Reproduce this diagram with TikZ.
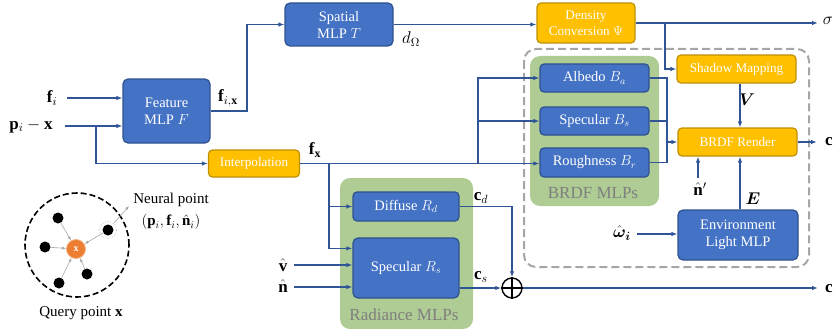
\documentclass[tikz,border=0pt]{standalone}
\usepackage{fix-cm}
\usepackage{amsmath,bm}
\usepackage{fontspec}
\setmainfont{Liberation Serif}
\usetikzlibrary{arrows.meta,calc}
\definecolor{bluefill}{HTML}{4472C4}
\definecolor{blueline}{HTML}{2F528F}
\definecolor{arrowc}{HTML}{2F5597}
\definecolor{goldfill}{HTML}{FFC000}
\definecolor{goldline}{HTML}{BF9000}
\definecolor{greenbg}{HTML}{AECC94}
\definecolor{graytxt}{HTML}{7F7F7F}
\definecolor{dashgray}{HTML}{A6A6A6}
\definecolor{orangept}{HTML}{ED7D31}
\tikzset{
  bluebox/.style={draw=blueline,fill=bluefill,line width=1.2pt,rounded corners=5pt,text=white,align=center,inner sep=0pt,font=\fontsize{14.5}{17}\selectfont},
  goldbox/.style={draw=goldline,fill=goldfill,line width=1.2pt,rounded corners=4pt,text=white,align=center,inner sep=0pt,font=\fontsize{13.2}{15.5}\selectfont},
  arr/.style={draw=arrowc,line width=1.4pt,-{Latex[length=6pt,width=4.5pt]}},
  ln/.style={draw=arrowc,line width=1.4pt},
  lbl/.style={inner sep=0pt,font=\fontsize{17}{19}\selectfont},
  grp/.style={inner sep=0pt,text=graytxt,font=\fontsize{17}{19}\selectfont},
  dot/.style={circle,fill=black,minimum size=11pt,inner sep=0pt},
  garr/.style={draw=gray!70,line width=0.6pt,-{Latex[length=4pt,width=3pt]}}
}
\begin{document}
\begin{tikzpicture}[x=1pt,y=-1pt]
\useasboundingbox (0,0) rectangle (835,329);
% backgrounds
\fill[greenbg] (530,56) [rounded corners=10pt] rectangle (659,206);
\fill[greenbg] (340,178) [rounded corners=10pt] rectangle (473,329);
\draw[dashgray,line width=2pt,dash pattern=on 8pt off 4pt,rounded corners=12pt] (524,49) rectangle (809,267);
\node[grp] (brdfg) at (593,193) {BRDF MLPs};
\node[grp] (radg) at (404,315) {Radiance MLPs};
% boxes
\node[bluebox,minimum width=108pt,minimum height=43pt] (spatial) at (339,24.5) {Spatial\\MLP $T$};
\node[bluebox,minimum width=87pt,minimum height=64pt] (feature) at (166.5,111) {Feature\\MLP $F$};
\node[goldbox,minimum width=91pt,minimum height=27pt] (interp) at (254,163.5) {Interpolation};
\node[goldbox,minimum width=98pt,minimum height=40pt] (density) at (586,23) {Density\\Conversion $\Psi$};
\node[bluebox,minimum width=109pt,minimum height=28pt,rounded corners=4pt] (albedo) at (594.5,78) {Albedo $B_a$};
\node[bluebox,minimum width=109pt,minimum height=28pt,rounded corners=4pt] (specB) at (594.5,121) {Specular $B_s$};
\node[bluebox,minimum width=109pt,minimum height=29pt,rounded corners=4pt] (rough) at (594.5,162.5) {Roughness $B_r$};
\node[goldbox,minimum width=119pt,minimum height=28pt] (shadow) at (736.5,69) {Shadow Mapping};
\node[goldbox,minimum width=119pt,minimum height=28pt] (brdf) at (737.5,142) {BRDF Render};
\node[bluebox,minimum width=120pt,minimum height=50pt] (env) at (738,235) {Environment\\Light MLP};
\node[bluebox,minimum width=106pt,minimum height=29pt,rounded corners=4pt] (diffuse) at (406,206.5) {Diffuse $R_d$};
\node[bluebox,minimum width=106pt,minimum height=60pt] (specR) at (406,268) {Specular $R_s$};
\node[circle,draw=black,line width=1.4pt,minimum size=20pt,inner sep=0pt] (plus) at (512,288) {};
\draw[black,line width=1.4pt] (plus.north) -- (plus.south) (plus.west) -- (plus.east);
% labels
\node[lbl] (fiL) at (52,98) {$\mathbf{f}_i$};
\node[lbl] (pxL) at (31,126) {$\mathbf{p}_i-\mathbf{x}$};
\node[lbl] (fixL) at (228,98) {$\mathbf{f}_{i,\mathbf{x}}$};
\node[lbl] (dL) at (411,39) {$d_\Omega$};
\node[lbl] (sigL) at (828,21) {$\sigma$};
\node[lbl] (VL) at (747,100) {$\bm{V}$};
\node[lbl] (c1L) at (829,142) {$\mathbf{c}$};
\node[lbl] (fxL) at (315,150) {$\mathbf{f}_{\mathbf{x}}$};
\node[lbl] (vL) at (283,265) {$\hat{\mathbf{v}}$};
\node[lbl] (nL) at (283,286) {$\hat{\mathbf{n}}$};
\node[lbl] (cdL) at (481,198) {$\mathbf{c}_d$};
\node[lbl] (csL) at (481,277) {$\mathbf{c}_s$};
\node[lbl] (c2L) at (829,289) {$\mathbf{c}$};
\node[lbl] (npL) at (700,189) {$\hat{\mathbf{n}}'$};
\node[lbl] (EL) at (753,199) {$\bm{E}$};
\node[lbl] (wL) at (622,233) {$\hat{\bm{\omega}}_{\bm{i}}$};
% coordinates
\coordinate (fiS) at (67,98);
\coordinate (pxS) at (65,126);
\coordinate (pBr) at (96,126);
\coordinate (fixC) at (247,111);
\coordinate (sigE) at (818,23);
\coordinate (dBr) at (665,23);
\coordinate (bC) at (667,142);
\coordinate (c1E) at (817,142);
\coordinate (fBr) at (478,163.5);
\coordinate (rBr) at (329,163.5);
\coordinate (vS) at (294,265);
\coordinate (nS) at (294,287);
\coordinate (npS) at (698,178);
\coordinate (wS) at (637,234);
\coordinate (c2E) at (818,288);
% connectors
\draw[arr] (fiS) -- (fiS -| feature.west);
\draw[arr] (pxS) -- (pxS -| feature.west);
\draw[arr] (pBr) |- (interp.west);
\draw[arr] (feature.east) -- (fixC) |- (spatial.west);
\draw[arr] (spatial.east) -- (spatial.east -| density.west);
\draw[arr] (density.east) -- (sigE);
\draw[arr] (dBr) |- (shadow.west);
\draw[arr] (shadow.south -| 740,0) -- (brdf.north -| 740,0);
\draw[ln] (albedo.east) -| (rough.east -| bC) -- (rough.east);
\draw[ln,line width=2pt] (specB.east) -- (specB.east -| bC);
\draw[arr] (bC) -- (brdf.west);
\draw[arr] (brdf.east) -- (c1E);
\draw[arr] (interp.east) -- (interp.east -| rough.west);
\draw[arr] (fBr) |- (albedo.west);
\draw[arr] (fBr |- specB.west) -- (specB.west);
\draw[arr] (rBr) |- (diffuse.west);
\draw[arr] (rBr |- diffuse.west) |- ($(specR.north west)+(0,11)$);
\draw[arr] (vS) -- (vS -| specR.west);
\draw[arr] (nS) -- (nS -| specR.west);
\draw[arr] (diffuse.east) -| (plus.north);
\draw[arr] (specR.east |- plus.west) -- (plus.west);
\draw[arr] (plus.east) -- (c2E);
\draw[arr] (npS) -- (npS |- brdf.south);
\draw[arr] (env.north -| 740,0) -- (brdf.south -| 740,0);
\draw[arr] (wS) -- (wS -| env.west);
% inset
\draw[black,line width=1.6pt,dash pattern=on 6pt off 3pt] (77,245) circle (52pt);
\node[circle,fill=orangept,draw=orangept!60!white,line width=0.8pt,minimum size=19pt,inner sep=0pt,text=white,font=\bfseries\fontsize{10}{10}\selectfont] (q) at (76,249) {x};
\node[dot] (d1) at (58,218) {};
\node[dot] (d2) at (45,247) {};
\node[dot] (d3) at (59,283) {};
\node[dot] (d4) at (87,274) {};
\node[dot] (d5) at (108,230) {};
\node[circle,draw=gray!70,dotted,line width=0.6pt,minimum size=17pt,inner sep=0pt] (d5c) at (108,230) {};
\draw[garr] (d1) -- (q);
\draw[garr] (d2) -- (q);
\draw[garr] (d3) -- (q);
\draw[garr] (d4) -- (q);
\draw[garr] (d5) -- (q);
\coordinate (npE) at (129,206);
\draw[garr] (d5c) -- (npE);
\node[inner sep=0pt,font=\fontsize{15}{17}\selectfont] (npT1) at (171,200) {Neural point};
\node[inner sep=0pt,font=\fontsize{15}{17}\selectfont] (npT2) at (171,222) {$(\mathbf{p}_i,\mathbf{f}_i,\hat{\mathbf{n}}_i)$};
\node[inner sep=0pt,font=\fontsize{15}{17}\selectfont] (qT) at (81,313) {Query point $\mathbf{x}$};
\end{tikzpicture}
\end{document}
